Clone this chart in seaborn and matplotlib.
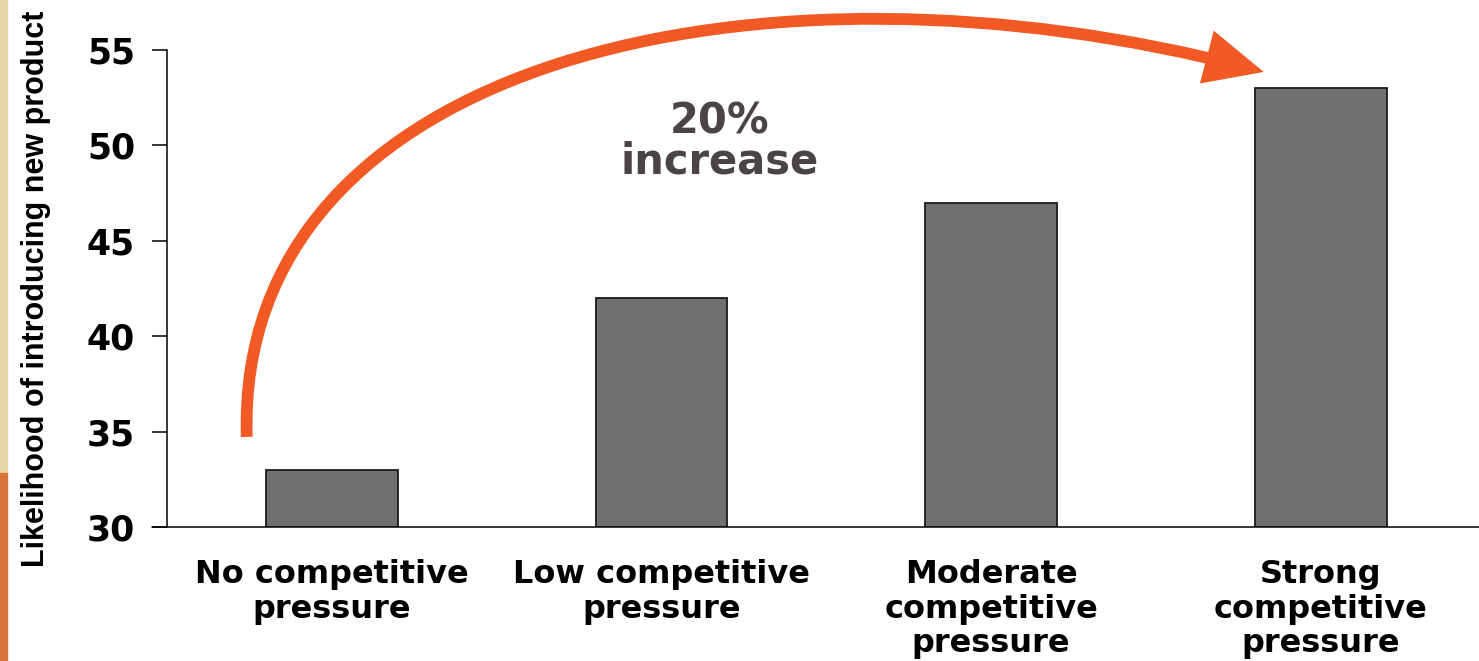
import numpy as np
import pandas as pd
import seaborn as sns
import matplotlib.pyplot as plt
from matplotlib.path import Path
from matplotlib.patches import FancyArrowPatch, Rectangle

categories = ['No competitive\npressure', 'Low competitive\npressure',
              'Moderate\ncompetitive\npressure', 'Strong\ncompetitive\npressure']
likelihood = [33, 42, 47, 53]
y_ticks = [30, 35, 40, 45, 50, 55]
y_label = 'Likelihood of introducing new product'
note = '20%\nincrease'

df = pd.DataFrame({'pressure': categories, 'likelihood': likelihood})

sns.set_style('white')
plt.rcParams['font.family'] = ['DejaVu Sans']

fig = plt.figure(figsize=(14.79, 6.61), dpi=100)
ax = fig.add_axes([167 / 1479, 134 / 661, 1312 / 1479, 477 / 661])

sns.barplot(data=df, x='pressure', y='likelihood', color='#707070',
            saturation=1, width=0.4, edgecolor='#1a1a1a', linewidth=1.3, ax=ax)

ax.set_ylim(30, 55)
ax.set_xlim(-0.5, 3.48)
ax.set_yticks(y_ticks)
ax.set_yticklabels([str(t) for t in y_ticks], fontsize=25, fontweight='bold', color='black')
ax.set_xticks(range(len(categories)))
ax.set_xticklabels(categories, fontsize=23, fontweight='bold', linespacing=1.15, color='black')
ax.tick_params(axis='y', direction='out', length=11, width=1.1, pad=12, left=True,
               color='black')
ax.tick_params(axis='x', length=0, pad=23)
ax.set_xlabel('')
ax.set_ylabel(y_label, fontsize=22, fontweight='bold', labelpad=26, color='black',
              family=['Liberation Sans', 'DejaVu Sans'])

for side in ['top', 'right', 'bottom']:
    ax.spines[side].set_visible(False)
ax.spines['left'].set_linewidth(1.1)
ax.spines['left'].set_color('black')
# baseline sticks out a little left of the y axis
ax.axhline(30, xmin=-0.0115, xmax=1, color='black', lw=1.1, clip_on=False)

# curved arrow from first to last bar
verts = [(-0.258, 34.72), (-0.294, 54.48), (1.297, 60.76), (2.827, 53.85)]
codes = [Path.MOVETO, Path.CURVE4, Path.CURVE4, Path.CURVE4]
arrow = FancyArrowPatch(path=Path(verts, codes),
                        arrowstyle='-|>,head_length=1.4,head_width=0.65',
                        mutation_scale=20, lw=8.5, color='#F15A24',
                        joinstyle='miter', capstyle='butt', clip_on=False)
ax.add_patch(arrow)

ax.text(1.176, 50.2, note, ha='center', va='center', fontsize=30,
        fontweight='bold', color='#4B4344', linespacing=0.95)

# slide edge strip on the left
fig.patches.append(Rectangle((0, 0.285), 7 / 1479, 0.715, transform=fig.transFigure,
                             color='#E6D7A6', zorder=-1))
fig.patches.append(Rectangle((0, 0), 7 / 1479, 0.285, transform=fig.transFigure,
                             color='#D9743A', zorder=-1))

fig.savefig('out.png', dpi=100)
